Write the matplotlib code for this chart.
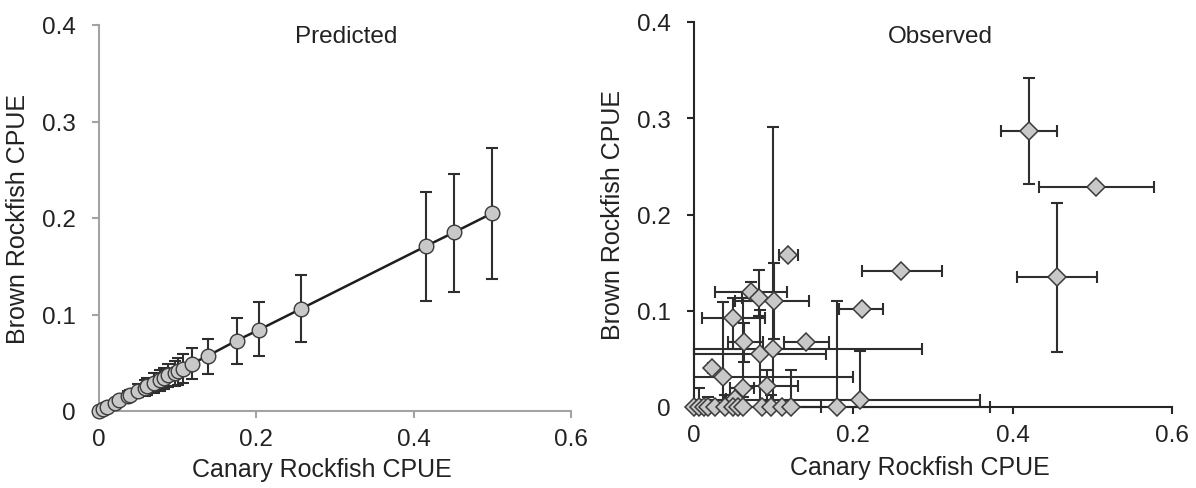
import matplotlib
matplotlib.use("Agg")
import matplotlib.pyplot as plt
import numpy as np

plt.rcParams['font.family'] = ['Liberation Sans', 'DejaVu Sans']

# ---------------- Data ----------------
# Predicted panel: canary CPUE, predicted brown CPUE, lower / upper bounds
pred_x  = [0.000, 0.005, 0.010, 0.020, 0.025, 0.037, 0.040, 0.050, 0.058, 0.061,
           0.070, 0.078, 0.082, 0.088, 0.097, 0.100, 0.107, 0.118, 0.138, 0.175,
           0.203, 0.257, 0.416, 0.451, 0.500]
pred_y  = [0.000, 0.002, 0.004, 0.008, 0.011, 0.016, 0.017, 0.021, 0.024, 0.026,
           0.029, 0.032, 0.034, 0.037, 0.039, 0.041, 0.044, 0.049, 0.057, 0.073,
           0.084, 0.106, 0.171, 0.185, 0.205]
pred_lo = [0.000, 0.001, 0.003, 0.005, 0.007, 0.011, 0.011, 0.014, 0.016, 0.017,
           0.019, 0.021, 0.023, 0.025, 0.026, 0.027, 0.029, 0.033, 0.038, 0.049,
           0.057, 0.071, 0.114, 0.123, 0.137]
pred_hi = [0.000, 0.003, 0.005, 0.011, 0.014, 0.021, 0.022, 0.028, 0.032, 0.034,
           0.039, 0.043, 0.045, 0.049, 0.052, 0.055, 0.059, 0.065, 0.075, 0.096,
           0.113, 0.141, 0.227, 0.246, 0.273]

# Observed panel: canary CPUE, brown CPUE, and error-bar bounds
obs_x   = [0.420, 0.505, 0.456, 0.260, 0.211, 0.118, 0.071, 0.082, 0.101, 0.049,
           0.141, 0.063, 0.083, 0.099, 0.022, 0.036, 0.061, 0.092, 0.051, 0.208,
           0.180,
           0.000, 0.006, 0.012, 0.018, 0.026, 0.039, 0.049, 0.055, 0.062, 0.085,
           0.097, 0.110, 0.122]
obs_y   = [0.287, 0.229, 0.135, 0.141, 0.102, 0.158, 0.119, 0.113, 0.110, 0.092,
           0.068, 0.068, 0.055, 0.060, 0.041, 0.031, 0.020, 0.022, 0.008, 0.007,
           0.000,
           0.000, 0.000, 0.000, 0.000, 0.000, 0.000, 0.000, 0.000, 0.000, 0.000,
           0.000, 0.000, 0.000]
obs_xlo = [0.385, 0.433, 0.405, 0.211, 0.182, 0.107, 0.026, 0.060, 0.051, 0.010,
           0.113, 0.043, 0.000, 0.000, 0.018, 0.000, 0.045, 0.060, 0.040, 0.000,
           0.000,
           0.000, 0.006, 0.012, 0.018, 0.026, 0.039, 0.049, 0.055, 0.062, 0.085,
           0.097, 0.110, 0.122]
obs_xhi = [0.456, 0.577, 0.506, 0.311, 0.237, 0.131, 0.117, 0.082, 0.144, 0.089,
           0.169, 0.087, 0.166, 0.286, 0.026, 0.200, 0.075, 0.131, 0.060, 0.359,
           0.372,
           0.000, 0.006, 0.012, 0.018, 0.026, 0.039, 0.049, 0.055, 0.062, 0.085,
           0.097, 0.110, 0.160]
obs_ylo = [0.232, 0.229, 0.057, 0.141, 0.102, 0.158, 0.119, 0.095, 0.071, 0.060,
           0.068, 0.047, 0.000, 0.000, 0.041, 0.000, 0.000, 0.000, 0.000, 0.000,
           0.000,
           0.000, 0.000, 0.000, 0.000, 0.000, 0.000, 0.000, 0.000, 0.000, 0.000,
           0.000, 0.000, 0.000]
obs_yhi = [0.342, 0.229, 0.212, 0.141, 0.102, 0.158, 0.130, 0.142, 0.150, 0.113,
           0.068, 0.087, 0.101, 0.291, 0.041, 0.109, 0.113, 0.038, 0.020, 0.058,
           0.110,
           0.000, 0.020, 0.000, 0.010, 0.000, 0.012, 0.000, 0.000, 0.010, 0.000,
           0.012, 0.000, 0.038]

xticks = [0, 0.2, 0.4, 0.6]
xtick_labels = ['0', '0.2', '0.4', '0.6']
yticks = [0, 0.1, 0.2, 0.3, 0.4]
ytick_labels = ['0', '0.1', '0.2', '0.3', '0.4']

# ---------------- Figure ----------------
fig = plt.figure(figsize=(11.96, 4.89), dpi=100)
axL = fig.add_axes([99/1196, 1-412/489, (571-99)/1196, (412-26)/489])
axR = fig.add_axes([694/1196, 1-408/489, (1172-694)/1196, (408-23)/489])

fill = '#c8c8c8'
edge = '#3a3a3a'
ecol = '#2e2e2e'
tcol = '#222222'

def style(ax, spine_col):
    ax.set_xlim(0, 0.6)
    ax.set_ylim(0, 0.4)
    ax.set_xticks(xticks)
    ax.set_xticklabels(xtick_labels)
    ax.set_yticks(yticks)
    ax.set_yticklabels(ytick_labels)
    for s in ['top', 'right']:
        ax.spines[s].set_visible(False)
    for s in ['left', 'bottom']:
        ax.spines[s].set_color(spine_col)
        ax.spines[s].set_linewidth(1.5)
    ax.tick_params(axis='both', colors=spine_col, length=5, width=1.5,
                   direction='out', labelsize=17.5, labelcolor=tcol)
    ax.tick_params(axis='y', pad=12)
    ax.tick_params(axis='x', pad=7)
    ax.set_xlabel('Canary Rockfish CPUE', fontsize=18, color=tcol, labelpad=5)
    ax.set_ylabel('Brown Rockfish CPUE', fontsize=18, color=tcol, labelpad=8)

# Left: predicted
px = np.array(pred_x); py = np.array(pred_y)
plo = np.array(pred_lo); phi = np.array(pred_hi)
axL.errorbar(px, py, yerr=[py - plo, phi - py], fmt='none', ecolor=ecol,
             elinewidth=1.5, capsize=4.3, capthick=1.5, zorder=2, clip_on=False)
axL.plot(px, py, '-', color='#1e1e1e', lw=1.8, zorder=3, clip_on=False)
axL.plot(px, py, 'o', ms=10.5, mfc=fill, mec=edge, mew=1.0, zorder=4, clip_on=False)
style(axL, '#a3a3a3')
axL.xaxis.set_label_coords(0.472, -0.119)
axL.text(0.523, 0.971, 'Predicted', transform=axL.transAxes, ha='center',
         va='center', fontsize=17.5, color=tcol)

# Right: observed
ox = np.array(obs_x); oy = np.array(obs_y)
xlo = np.array(obs_xlo); xhi = np.array(obs_xhi)
ylo = np.array(obs_ylo); yhi = np.array(obs_yhi)
hasx = (xhi - xlo) > 0
hasy = (yhi - ylo) > 0
axR.errorbar(ox[hasx], oy[hasx], xerr=[(ox - xlo)[hasx], (xhi - ox)[hasx]],
             fmt='none', ecolor=ecol, elinewidth=1.5, capsize=4.3, capthick=1.5,
             zorder=2, clip_on=False)
axR.errorbar(ox[hasy], oy[hasy], yerr=[(oy - ylo)[hasy], (yhi - oy)[hasy]],
             fmt='none', ecolor=ecol, elinewidth=1.5, capsize=4.3, capthick=1.5,
             zorder=2, clip_on=False)
axR.plot(ox, oy, 'D', ms=9.0, mfc=fill, mec=edge, mew=1.1, ls='none',
         zorder=4, clip_on=False)
style(axR, '#262626')
axR.xaxis.set_label_coords(0.473, -0.124)
axR.text(0.515, 0.964, 'Observed', transform=axR.transAxes, ha='center',
         va='center', fontsize=17.5, color=tcol)

fig.savefig('out.png', dpi=100)
